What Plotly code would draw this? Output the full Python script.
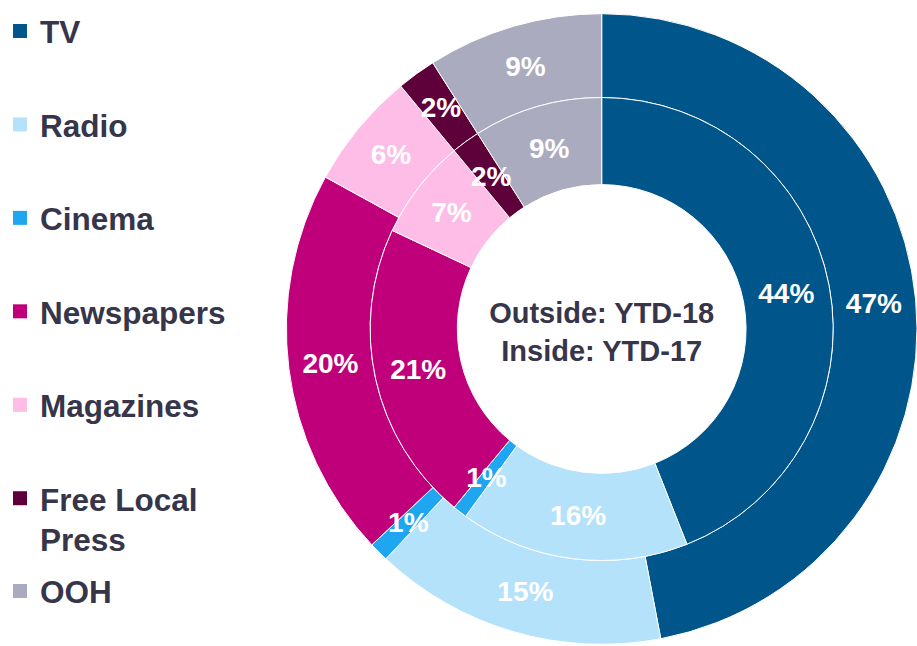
import math
import plotly.graph_objects as go

# Media share of spend, YTD-18 (outer ring) vs YTD-17 (inner ring)
categories = ["TV", "Radio", "Cinema", "Newspapers", "Magazines", "Free Local Press", "OOH"]
legend_labels = ["TV", "Radio", "Cinema", "Newspapers", "Magazines", "Free Local<br>Press", "OOH"]
share_ytd18 = [47, 15, 1, 20, 6, 2, 9]
share_ytd17 = [44, 16, 1, 21, 7, 2, 9]
colors = ["#00558a", "#b3e2fa", "#1ea7f0", "#c0007a", "#fdbde6", "#5e0039", "#aaabbe"]
center_title = "Outside: YTD-18<br>Inside: YTD-17"

FONT = "Liberation Sans, Arial, sans-serif"
TEXT_COLOR = "#36354a"
LABEL_SIZE = 28

W, H = 917, 646
CX, CY = 601, 329              # ring centre in pixels
R_OUT, R_MID, R_HOLE = 316, 232, 144.7
SMALL = 3                      # slices under this share get labels from a separate text layer


def domain(r):
    """Square pie domain of radius r (pixels) around the ring centre."""
    return dict(x=[(CX - r) / W, (CX + r) / W],
                y=[(H - CY - r) / H, (H - CY + r) / H])


def ring(values, r_outer, r_inner, name, title=None):
    texts = [f"{v}%" if v >= SMALL else "" for v in values]
    kw = {}
    if title:
        kw["title"] = dict(text=title, position="middle center",
                           font=dict(family=FONT, size=29, color=TEXT_COLOR, weight="bold"))
    return go.Pie(
        labels=categories, values=values, name=name,
        domain=domain(r_outer), hole=r_inner / r_outer,
        sort=False, direction="clockwise", rotation=0,
        marker=dict(colors=colors, line=dict(color="white", width=1)),
        text=texts, textinfo="text", textposition="inside",
        insidetextorientation="auto",
        insidetextfont=dict(family=FONT, size=LABEL_SIZE, color="white", weight="bold"),
        showlegend=False, hoverinfo="label+value", **kw)


def small_labels(values, r_outer, r_inner):
    """Transparent pies carrying the labels of thin slices, sized so the
    horizontal label lands half-way across the ring."""
    layers = []
    mid = (r_outer + r_inner) / 2
    total = sum(values)
    for i, v in enumerate(values):
        if v >= SMALL:
            continue
        half = math.pi * v / total
        inscribed = 1 / (1 + 1 / math.sin(half))
        r = mid / (1 - inscribed)
        texts = [f"{v}%" if j == i else "" for j in range(len(values))]
        layers.append(go.Pie(
            labels=categories, values=values, domain=domain(r),
            sort=False, direction="clockwise", rotation=0,
            marker=dict(colors=["rgba(0,0,0,0)"] * len(values), line=dict(width=0)),
            text=texts, textinfo="text", textposition="inside",
            insidetextorientation="horizontal",
            insidetextfont=dict(family=FONT, size=LABEL_SIZE, color="white", weight="bold"),
            showlegend=False, hoverinfo="skip"))
    return layers


fig = go.Figure()
fig.add_trace(ring(share_ytd18, R_OUT, R_MID, "YTD-18"))
fig.add_trace(ring(share_ytd17, R_MID, R_HOLE, "YTD-17", title=center_title))
for t in small_labels(share_ytd18, R_OUT, R_MID) + small_labels(share_ytd17, R_MID, R_HOLE):
    fig.add_trace(t)

# legend entries (square swatches)
for i, (cat, lab, col) in enumerate(zip(categories, legend_labels, colors)):
    fig.add_trace(go.Scatter(
        x=[None], y=[None], mode="markers", name=lab,
        marker=dict(symbol="square", size=14, color=col),
        legendgroup=cat, legend="legend2" if i == len(categories) - 1 else "legend",
        hoverinfo="skip"))

legend_common = dict(
    font=dict(family=FONT, size=31.5, color=TEXT_COLOR, weight="bold"),
    bgcolor="rgba(0,0,0,0)", borderwidth=0, valign="top",
    traceorder="grouped", xanchor="left", yanchor="top", itemsizing="trace",
)

fig.update_layout(
    width=W, height=H,
    margin=dict(l=0, r=0, t=0, b=0, pad=0),
    paper_bgcolor="white", plot_bgcolor="white",
    xaxis=dict(visible=False), yaxis=dict(visible=False),
    uniformtext=dict(minsize=LABEL_SIZE, mode="show"),
    legend=dict(x=-2 / W, y=1.0 - 4 / H, tracegroupgap=49.5, **legend_common),
    legend2=dict(x=-2 / W, y=(H - 564) / H, **legend_common),
    showlegend=True,
)

fig.write_html("out.html")
